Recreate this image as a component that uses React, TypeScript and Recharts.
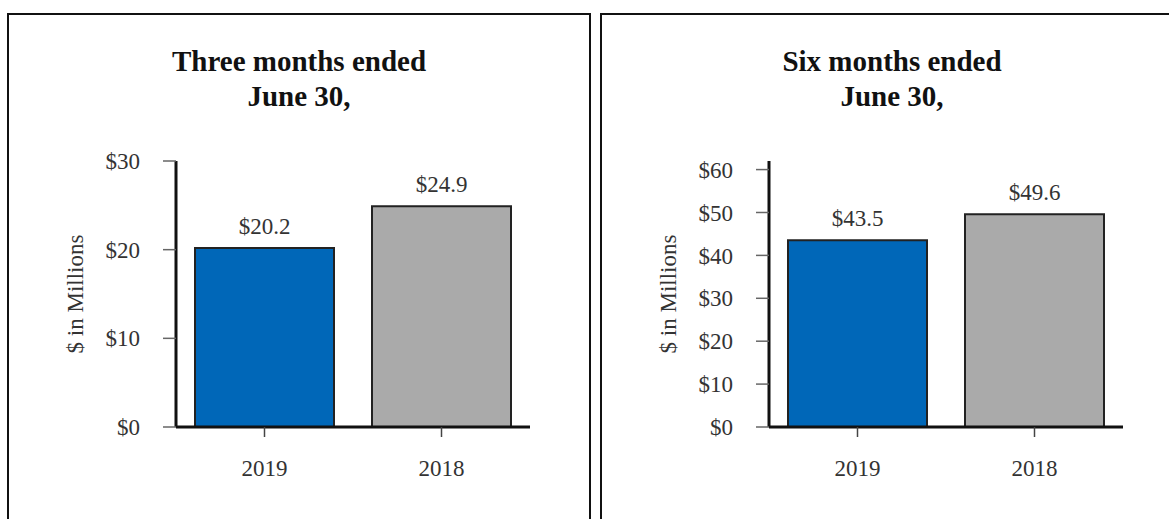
import { Bar, BarChart, Cell, LabelList, XAxis, YAxis } from "recharts";

const years = ["2019", "2018"];
const threeMonthValues = [20.2, 24.9];
const sixMonthValues = [43.5, 49.6];
const threeMonthTicks = [0, 10, 20, 30];
const sixMonthTicks = [0, 10, 20, 30, 40, 50, 60];
const barColors = ["#0067b8", "#aaaaaa"];

const serif = "'Liberation Serif', 'Times New Roman', serif";

const toRows = (values: number[]) => years.map((year, i) => ({ year, value: values[i] }));

type PanelProps = {
  left: number;
  titleTop: string;
  values: number[];
  ticks: number[];
  domainMax: number;
};

function Panel({ left, titleTop, values, ticks, domainMax }: PanelProps) {
  const rows = toRows(values);
  return (
    <div
      style={{
        position: "absolute",
        left,
        top: 13,
        width: 584,
        height: 530,
        border: "2px solid #111",
        boxSizing: "border-box",
        background: "#fff",
      }}
    >
      <div
        style={{
          position: "absolute",
          left: 0,
          top: 29,
          width: "100%",
          textAlign: "center",
          fontFamily: serif,
          fontWeight: "bold",
          fontSize: 29,
          lineHeight: "35px",
          color: "#111",
        }}
      >
        {titleTop}
        <br />
        June 30,
      </div>
      <div style={{ position: "absolute", left: 0, top: 0 }}>
        <BarChart
          width={580}
          height={500}
          data={rows}
          margin={{ top: 146, right: 59, left: 0, bottom: 28 }}
          barSize={139}
        >
          <XAxis
            dataKey="year"
            height={60}
            axisLine={{ stroke: "#111", strokeWidth: 3 }}
            tickLine={{ stroke: "#444", strokeWidth: 1.5 }}
            tickSize={10}
            tickMargin={23}
            tick={{ fill: "#333", fontSize: 23, fontFamily: serif }}
          />
          <YAxis
            width={167}
            domain={[0, domainMax]}
            ticks={ticks}
            interval={0}
            tickFormatter={(v: number) => `$${v}`}
            axisLine={{ stroke: "#111", strokeWidth: 3 }}
            tickLine={{ stroke: "#666", strokeWidth: 1.5 }}
            tickSize={13}
            tickMargin={23}
            tick={{ fill: "#333", fontSize: 23, fontFamily: serif }}
            label={{
              value: "$ in Millions",
              angle: -90,
              position: "insideLeft",
              offset: 66,
              style: { textAnchor: "middle", fill: "#333", fontSize: 23, fontFamily: serif },
            }}
          />
          <Bar dataKey="value" stroke="#222" strokeWidth={2} isAnimationActive={false}>
            {rows.map((row, i) => (
              <Cell key={row.year} fill={barColors[i]} />
            ))}
            <LabelList
              dataKey="value"
              position="top"
              offset={14}
              formatter={(v: number) => `$${v.toFixed(1)}`}
              style={{ fill: "#333", fontSize: 23, fontFamily: serif }}
            />
          </Bar>
        </BarChart>
      </div>
    </div>
  );
}

export default function App() {
  return (
    <div
      style={{
        position: "fixed",
        left: 0,
        top: 0,
        width: 1169,
        height: 519,
        background: "#fff",
        overflow: "hidden",
      }}
    >
      <Panel
        left={7}
        titleTop="Three months ended"
        values={threeMonthValues}
        ticks={threeMonthTicks}
        domainMax={30}
      />
      <Panel
        left={600}
        titleTop="Six months ended"
        values={sixMonthValues}
        ticks={sixMonthTicks}
        domainMax={62}
      />
    </div>
  );
}
